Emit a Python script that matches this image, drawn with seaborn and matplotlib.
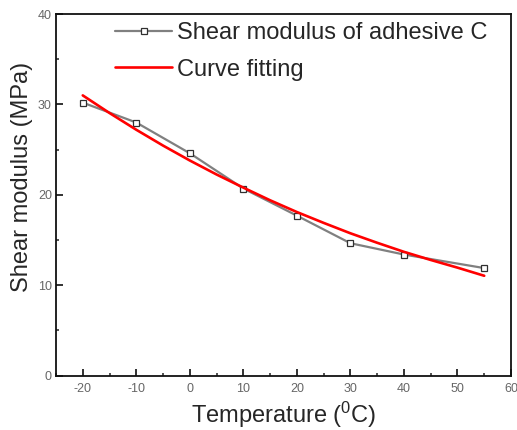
import matplotlib
matplotlib.use("Agg")
import matplotlib.pyplot as plt
from matplotlib.ticker import MultipleLocator
import pandas as pd
import seaborn as sns

# Measured shear modulus of adhesive C
temperature = [-20, -10, 0, 10, 20, 30, 40, 55]
shear_modulus = [30.2, 28.0, 24.6, 20.7, 17.7, 14.65, 13.4, 11.9]

# Fitted curve
fit_temperature = [-20, -15, -10, -5, 0, 5, 10, 15, 20, 25, 30, 35, 40, 45, 50, 55]
fit_modulus = [31.0, 29.05, 27.2, 25.45, 23.8, 22.25, 20.8, 19.4, 18.1, 16.9,
               15.75, 14.7, 13.7, 12.8, 11.95, 11.05]

measured = pd.DataFrame({"T": temperature, "G": shear_modulus})
fitted = pd.DataFrame({"T": fit_temperature, "G": fit_modulus})

sns.set_style("white")
plt.rcParams["font.family"] = ["Liberation Sans", "DejaVu Sans"]
plt.rcParams["mathtext.fontset"] = "custom"
plt.rcParams["mathtext.rm"] = "Liberation Sans"
plt.rcParams["mathtext.it"] = "Liberation Sans"
plt.rcParams["axes.unicode_minus"] = False

fig = plt.figure(figsize=(5.17, 4.30), dpi=100)
ax = fig.add_axes([0.1083, 0.1263, 0.8801, 0.8411])

sns.lineplot(data=measured, x="T", y="G", ax=ax, color="#808080", linewidth=1.6,
             marker="s", markersize=4.5, markerfacecolor="white",
             markeredgecolor="#303030", markeredgewidth=0.9,
             label="Shear modulus of adhesive C")
sns.lineplot(data=fitted, x="T", y="G", ax=ax, color="#ff0000", linewidth=1.9,
             label="Curve fitting")

ax.set_xlim(-25, 60)
ax.set_ylim(0, 40)
ax.xaxis.set_major_locator(MultipleLocator(10))
ax.xaxis.set_minor_locator(MultipleLocator(5))
ax.yaxis.set_major_locator(MultipleLocator(10))
ax.yaxis.set_minor_locator(MultipleLocator(5))
ax.tick_params(which="both", direction="in", top=False, right=False,
               left=True, bottom=True, colors="#222222", labelcolor="#666666",
               labelsize=9)
ax.tick_params(which="major", length=5, width=1.3)
ax.tick_params(which="minor", length=2.5, width=1.1)
ax.tick_params(axis="x", pad=5)
ax.tick_params(axis="y", pad=3)

for sp in ax.spines.values():
    sp.set_color("#111111")
    sp.set_linewidth(1.3)

ax.set_xlabel("Temperature ($^{0}$C)", fontsize=17, labelpad=3.5)
ax.set_ylabel("Shear modulus (MPa)", fontsize=17)
ax.yaxis.set_label_coords(-0.05, 0.549)

leg = ax.legend(loc="upper left", bbox_to_anchor=(0.11, 1.003), frameon=False,
                fontsize=17, handlelength=2.4, handletextpad=0.2,
                labelspacing=0.6, borderaxespad=0.0)

fig.savefig("out.png", dpi=100)
